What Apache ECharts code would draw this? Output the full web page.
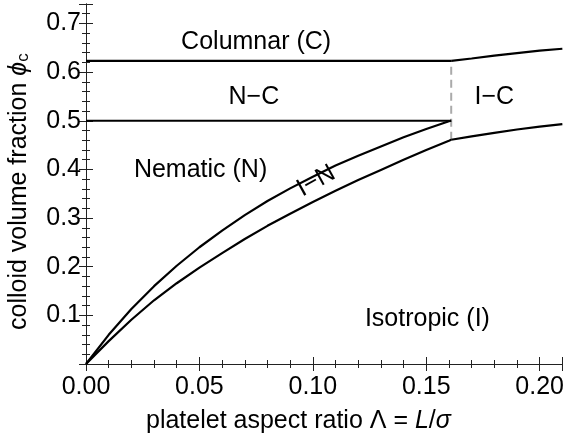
<!DOCTYPE html>
<html>
<head>
<meta charset="utf-8">
<script src="https://cdn.jsdelivr.net/npm/echarts@6/dist/echarts.min.js"></script>
<style>
  html, body { margin: 0; padding: 0; background: #fff; }
  #chart { width: 567px; height: 438px; }
</style>
</head>
<body>
<div id="chart"></div>
<script>
// Platelet aspect ratio samples for the isotropic–nematic coexistence curves
const lambdaIN = [0, 0.01, 0.02, 0.03, 0.04, 0.05, 0.06, 0.07, 0.08, 0.09, 0.10, 0.11, 0.12, 0.13, 0.14, 0.15, 0.16, 0.161];
// Nematic branch (upper) and isotropic branch (lower) of the I–N coexistence
const nematicBranch   = [0, 0.060, 0.113, 0.160, 0.202, 0.240, 0.274, 0.306, 0.335, 0.361, 0.385, 0.408, 0.428, 0.447, 0.466, 0.483, 0.499, 0.500];
const isotropicBranch = [0, 0.047, 0.091, 0.131, 0.166, 0.198, 0.228, 0.257, 0.284, 0.309, 0.333, 0.356, 0.378, 0.399, 0.420, 0.440, 0.459, 0.461];

// Isotropic–columnar coexistence beyond the triple point
const lambdaIC = [0.161, 0.17, 0.18, 0.19, 0.20, 0.21];
const columnarBranchIC  = [0.623, 0.628, 0.634, 0.639, 0.644, 0.648];
const isotropicBranchIC = [0.461, 0.468, 0.475, 0.482, 0.488, 0.493];

// Nematic–columnar coexistence (flat lines up to the triple point)
const lambdaNC = [0, 0.161];
const columnarBranchNC = [0.623, 0.623];
const nematicBranchNC  = [0.500, 0.500];

// Triple point tie line (dashed)
const lambdaTriple = [0.161, 0.161];
const phiTriple = [0.461, 0.623];

// Phase region labels: [Λ, φ, text, rotation]
const regionLabels = [
  [0.075, 0.662, 'Columnar (C)', 0],
  [0.074, 0.549, 'N\u2212C', 0],
  [0.180, 0.549, 'I\u2212C', 0],
  [0.0505, 0.398, 'Nematic (N)', 0],
  [0.1505, 0.093, 'Isotropic (I)', 0],
  [0.1015, 0.376, 'I\u2212N', 29]
];

const xTicks = [0, 0.05, 0.10, 0.15, 0.20];
const yTicks = [0.1, 0.2, 0.3, 0.4, 0.5, 0.6, 0.7];

const pairs = (xs, ys) => xs.map((x, i) => [x, ys[i]]);
const FONT = '"Liberation Sans", Arial, sans-serif';
const FS = 25;
const INK = '#000';

const near = (v, list) => list.some(t => Math.abs(v - t) < 1e-6);

const lineSeries = (xs, ys) => ({
  type: 'line',
  data: pairs(xs, ys),
  symbol: 'none',
  silent: true,
  lineStyle: { color: '#000', width: 2.2 },
  z: 3
});

const frameLine = { show: true, lineStyle: { color: '#222', width: 1 } };
const ticks = { show: true, inside: true, length: 7, lineStyle: { color: '#222' } };
const minor = { show: true, splitNumber: 5, length: 4, lineStyle: { color: '#222' } };

const chart = echarts.init(document.getElementById('chart'), null, { renderer: 'canvas' });
chart.setOption({
  animation: false,
  backgroundColor: '#fff',
  grid: { left: 86, right: 1, top: 4, bottom: 74 },
  xAxis: [
    {
      type: 'value', min: 0, max: 0.21, interval: 0.05, position: 'bottom',
      axisLine: frameLine, axisTick: ticks, minorTick: minor,
      splitLine: { show: false },
      axisLabel: {
        fontFamily: FONT, fontSize: FS, color: INK, margin: 11,
        formatter: v => near(v, xTicks) ? v.toFixed(2) : ''
      }
    },
    {
      type: 'value', min: 0, max: 0.21, interval: 0.05, position: 'top',
      axisLine: frameLine, axisTick: ticks, minorTick: minor,
      splitLine: { show: false },
      axisLabel: { show: false }
    }
  ],
  yAxis: [
    {
      type: 'value', min: 0, max: 0.74, interval: 0.1, position: 'left',
      axisLine: frameLine, axisTick: ticks, minorTick: minor,
      splitLine: { show: false },
      axisLabel: {
        fontFamily: FONT, fontSize: FS, color: INK, margin: 5,
        formatter: v => near(v, yTicks) ? v.toFixed(1) : ''
      }
    },
    {
      type: 'value', min: 0, max: 0.74, interval: 0.1, position: 'right',
      axisLine: frameLine, axisTick: ticks, minorTick: minor,
      splitLine: { show: false },
      axisLabel: { show: false }
    }
  ],
  graphic: [
    {
      type: 'text', left: 146, top: 409,
      style: {
        text: 'platelet aspect ratio \u039B = {i|L}/{i|\u03C3}',
        fontFamily: FONT, fontSize: FS, fill: INK,
        rich: { i: { fontFamily: FONT, fontSize: FS, fontStyle: 'italic', fill: INK } }
      }
    },
    {
      type: 'text', x: 7, y: 330, rotation: Math.PI / 2,
      style: {
        text: 'colloid volume fraction {i|\u03D5}{s|c}',
        fontFamily: FONT, fontSize: FS, fill: INK,
        rich: {
          i: { fontFamily: FONT, fontSize: FS, fontStyle: 'italic', fill: INK },
          s: { fontFamily: FONT, fontSize: 17, fill: INK, verticalAlign: 'bottom', padding: [8, 0, 0, 0] }
        }
      }
    }
  ],
  series: [
    lineSeries(lambdaIN, nematicBranch),
    lineSeries(lambdaIN, isotropicBranch),
    lineSeries(lambdaIC, columnarBranchIC),
    lineSeries(lambdaIC, isotropicBranchIC),
    lineSeries(lambdaNC, columnarBranchNC),
    lineSeries(lambdaNC, nematicBranchNC),
    {
      type: 'line',
      data: pairs(lambdaTriple, phiTriple),
      symbol: 'none',
      silent: true,
      lineStyle: { color: '#aaaaaa', width: 2, type: [8, 5] },
      z: 2
    },
    {
      type: 'scatter',
      symbolSize: 0,
      silent: true,
      z: 4,
      itemStyle: { opacity: 1 },
      data: regionLabels.map(r => ({
        value: [r[0], r[1]],
        label: {
          show: true, position: 'inside', formatter: r[2], rotate: r[3],
          fontFamily: FONT, fontSize: FS, color: INK, opacity: 1,
          textBorderWidth: 0, textShadowBlur: 0
        }
      }))
    }
  ]
});
</script>
</body>
</html>
